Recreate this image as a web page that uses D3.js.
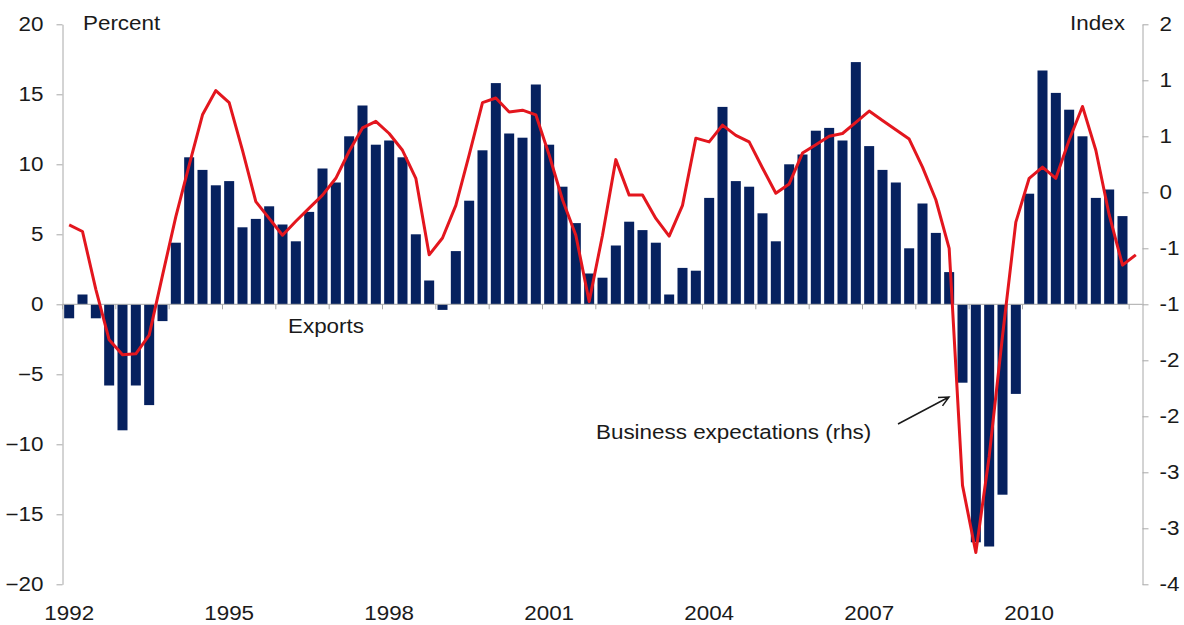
<!DOCTYPE html>
<html>
<head>
<meta charset="utf-8">
<script src="https://cdn.jsdelivr.net/npm/d3@7"></script>
<style>
  body { margin: 0; background: #fff; }
  svg text { font-family: "Liberation Sans", Arial, sans-serif; font-size: 19.5px; fill: #1a1a1a; }
</style>
</head>
<body>
<svg id="chart" width="1184" height="625"></svg>
<script>
// Quarterly categories, 1992Q1 .. 2012Q1 (bars stop at 2011Q4, line runs one more quarter)
var quarters = [];
d3.range(1992, 2012).forEach(function(y) {
    ["Q1", "Q2", "Q3", "Q4"].forEach(function(q) { quarters.push(y + q); });
});
quarters.push("2012Q1");

// Exports, percent (left axis)
var exportsGrowth = [
    -1.0, 0.7, -1.0, -5.8, -9.0, -5.8, -7.2, -1.2,
    4.4, 10.5, 9.6, 8.5, 8.8, 5.5, 6.1, 7.0,
    5.7, 4.5, 6.6, 9.7, 8.7, 12.0, 14.2, 11.4,
    11.7, 10.5, 5.0, 1.7, -0.4, 3.8, 7.4, 11.0,
    15.8, 12.2, 11.9, 15.7, 11.4, 8.4, 5.8, 2.2,
    1.9, 4.2, 5.9, 5.3, 4.4, 0.7, 2.6, 2.4,
    7.6, 14.1, 8.8, 8.4, 6.5, 4.5, 10.0, 10.7,
    12.4, 12.6, 11.7, 17.3, 11.3, 9.6, 8.7, 4.0,
    7.2, 5.1, 2.3, -5.6, -17.0, -17.3, -13.6, -6.4,
    7.9, 16.7, 15.1, 13.9, 12.0, 7.6, 8.2, 6.3
];

// Business expectations, index (right axis)
var businessExpectations = [
    -0.15, -0.22, -0.84, -1.38, -1.54, -1.53, -1.33, -0.69,
    -0.06, 0.49, 1.03, 1.29, 1.16, 0.65, 0.10, -0.08,
    -0.26, -0.11, 0.03, 0.17, 0.35, 0.64, 0.89, 0.96,
    0.83, 0.65, 0.35, -0.47, -0.29, 0.06, 0.60, 1.16,
    1.21, 1.06, 1.08, 1.03, 0.60, 0.12, -0.26, -0.97,
    -0.26, 0.55, 0.17, 0.17, -0.08, -0.27, 0.06, 0.78,
    0.74, 0.92, 0.81, 0.74, 0.46, 0.19, 0.29, 0.62,
    0.71, 0.80, 0.83, 0.95, 1.07, 0.97, 0.87, 0.77,
    0.47, 0.12, -0.40, -2.94, -3.66, -2.63, -1.34, -0.12,
    0.35, 0.47, 0.35, 0.76, 1.12, 0.65, -0.04, -0.58,
    -0.47
];

var yearLabels = ["1992", "1995", "1998", "2001", "2004", "2007", "2010"];
var leftTicks = [20, 15, 10, 5, 0, -5, -10, -15, -20];
var rightTicks = [2, 1.4, 0.8, 0.2, -0.4, -1, -1.6, -2.2, -2.8, -3.4, -4];
var rightTickLabels = ["2", "1", "1", "0", "-1", "-1", "-2", "-2", "-3", "-3", "-4"];

// Layout
var plot = {left: 62.5, right: 1142.5, top: 24.3, bottom: 584.3};
var barColor = "#06215f";
var lineColor = "#e3161e";
var axisColor = "#a8a8a8";

var svg = d3.select("#chart");

var x = d3.scaleBand()
    .domain(quarters)
    .range([plot.left, plot.right])
    .paddingInner(0.25)
    .paddingOuter(0.125);

var yLeft = d3.scaleLinear().domain([-20, 20]).range([plot.bottom, plot.top]);
var yRight = d3.scaleLinear().domain([-4, 2]).range([plot.bottom, plot.top]);

// Text in the original is a little wider than Arial at this height
function widen(sel, origin) {
    sel.style("transform-box", "fill-box")
       .style("transform-origin", origin)
       .style("transform", "scaleX(1.15)");
}

// Bars
svg.append("g")
    .selectAll("rect")
    .data(exportsGrowth)
    .enter().append("rect")
        .attr("x", function(d, i) { return x(quarters[i]); })
        .attr("y", function(d) { return yLeft(Math.max(0, d)); })
        .attr("width", x.bandwidth())
        .attr("height", function(d) { return Math.abs(yLeft(d) - yLeft(0)); })
        .attr("fill", barColor);

// Zero line with yearly tick marks
var zeroY = yLeft(0);
svg.append("line")
    .attr("x1", plot.left).attr("x2", plot.right)
    .attr("y1", zeroY).attr("y2", zeroY)
    .attr("stroke", axisColor).attr("stroke-width", 1);

var yearStarts = quarters.filter(function(q) { return q.slice(4) === "Q1"; });
svg.append("g")
    .selectAll("line")
    .data(yearStarts)
    .enter().append("line")
        .attr("x1", function(q) { return x(q) - x.step() * x.paddingInner() / 2; })
        .attr("x2", function(q) { return x(q) - x.step() * x.paddingInner() / 2; })
        .attr("y1", zeroY).attr("y2", zeroY + 5)
        .attr("stroke", axisColor).attr("stroke-width", 1);

// Year labels at the bottom
svg.append("g")
    .selectAll("text")
    .data(yearLabels)
    .enter().append("text")
        .attr("x", function(d) { return x(d + "Q1") + x.bandwidth() / 2; })
        .attr("y", 620)
        .attr("text-anchor", "middle")
        .text(function(d) { return d; })
        .call(widen, "50% 50%");

// Left axis
var leftAxis = svg.append("g")
    .attr("transform", "translate(" + plot.left + ",0)")
    .call(d3.axisLeft(yLeft).tickValues(leftTicks).tickSize(6).tickSizeOuter(0).tickPadding(13));

// Right axis
var rightAxis = svg.append("g")
    .attr("transform", "translate(" + plot.right + ",0)")
    .call(d3.axisRight(yRight)
        .tickValues(rightTicks)
        .tickFormat(function(d, i) { return rightTickLabels[i]; })
        .tickSize(6).tickSizeOuter(0).tickPadding(11));

[leftAxis, rightAxis].forEach(function(ax) {
    ax.select(".domain").attr("stroke", axisColor);
    ax.selectAll(".tick line").attr("stroke", axisColor);
    ax.selectAll(".tick text")
        .attr("fill", "#1a1a1a")
        .style("font-size", "19.5px")
        .style("font-family", "\"Liberation Sans\", Arial, sans-serif");
});
leftAxis.selectAll(".tick text").call(widen, "100% 50%");
rightAxis.selectAll(".tick text").call(widen, "0% 50%");

// Business expectations line
var line = d3.line()
    .x(function(d, i) { return x(quarters[i]) + x.bandwidth() / 2; })
    .y(function(d) { return yRight(d); });

svg.append("path")
    .datum(businessExpectations)
    .attr("d", line)
    .attr("fill", "none")
    .attr("stroke", lineColor)
    .attr("stroke-width", 3)
    .attr("stroke-linejoin", "round");

// Axis titles
svg.append("text").attr("x", 83).attr("y", 30).text("Percent").call(widen, "0% 50%");
svg.append("text").attr("x", 1125).attr("y", 30).attr("text-anchor", "end").text("Index").call(widen, "100% 50%");

// Series annotations
svg.append("text").attr("x", 288).attr("y", 333).text("Exports").call(widen, "0% 50%");
svg.append("text").attr("x", 596).attr("y", 439).text("Business expectations (rhs)").call(widen, "0% 50%");

// Arrow to the line
var tail = [898, 424], tip = [949, 397];
var ang = Math.atan2(tip[1] - tail[1], tip[0] - tail[0]);
var head = 11;
var p1 = [tip[0] - head * Math.cos(ang - 0.45), tip[1] - head * Math.sin(ang - 0.45)];
var p2 = [tip[0] - head * Math.cos(ang + 0.45), tip[1] - head * Math.sin(ang + 0.45)];
svg.append("path")
    .attr("d", "M" + tail + "L" + tip + "M" + p1 + "L" + tip + "L" + p2)
    .attr("fill", "none")
    .attr("stroke", "#1a1a1a")
    .attr("stroke-width", 1.5);
</script>
</body>
</html>
